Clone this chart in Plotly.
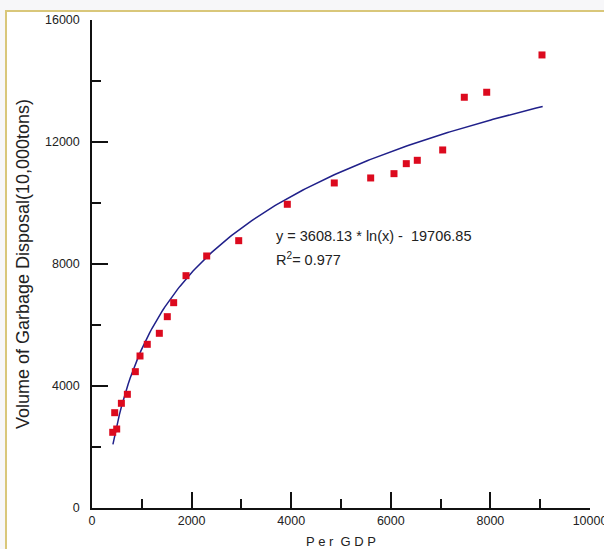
import numpy as np
import plotly.graph_objects as go

# Data
gdp = [416, 456, 496, 590, 710, 870, 964, 1110, 1352, 1512, 1640, 1888, 2303, 2946,
       3922, 4865, 5596, 6064, 6311, 6532, 7042, 7476, 7926, 9036]
garbage = [2482, 3125, 2590, 3433, 3728, 4470, 4984, 5367, 5728, 6273, 6732, 7617, 8263, 8765,
           9958, 10657, 10821, 10962, 11290, 11400, 11739, 13467, 13631, 14854]

# Fitted trend shown on the chart: y = a*ln(x) + b
fit_a = 3608.13
fit_b = -19706.85
fit_x = np.linspace(420, 9050, 200)
fit_y = fit_a * np.log(fit_x) + fit_b

x_ticks = [0, 2000, 4000, 6000, 8000, 10000]
y_ticks = [0, 4000, 8000, 12000, 16000]

FONT = "Liberation Sans, Arial, sans-serif"

fig = go.Figure()
fig.add_trace(go.Scatter(x=fit_x, y=fit_y, mode="lines",
                         line=dict(color="#20208a", width=1.5), hoverinfo="skip"))
fig.add_trace(go.Scatter(x=gdp, y=garbage, mode="markers",
                         marker=dict(symbol="square", size=7, color="#dc0a1e",
                                     line=dict(width=0))))

# frame around the chart
fig.add_shape(type="rect", xref="paper", yref="paper",
              x0=-0.1727, y0=-0.1, x1=1.05, y1=1.0184,
              line=dict(color="#d9c77a", width=2), fillcolor="white", layer="below")

fig.add_annotation(x=3650, y=8930, xref="x", yref="y", xanchor="left", yanchor="middle",
                   text="y = 3608.13 * ln(x) -  19706.85", showarrow=False,
                   font=dict(family=FONT, size=14.5, color="#222"))
fig.add_annotation(x=3650, y=8170, xref="x", yref="y", xanchor="left", yanchor="middle",
                   text="R<sup>2</sup>= 0.977", showarrow=False,
                   font=dict(family=FONT, size=14.5, color="#222"))

fig.update_layout(
    width=604, height=549,
    margin=dict(l=92, r=14, t=20, b=41),
    paper_bgcolor="#f7f7f9", plot_bgcolor="rgba(0,0,0,0)",
    showlegend=False,
    font=dict(family=FONT, color="#222", size=12.5),
    xaxis=dict(range=[0, 10000], tickvals=x_ticks, ticktext=[str(v) for v in x_ticks],
               showgrid=False, zeroline=False, showline=True, linecolor="#111", linewidth=1.5,
               ticks="inside", ticklen=16, tickwidth=1.5, tickcolor="#111",
               ticklabeloverflow="allow", automargin=False,
               minor=dict(tickvals=[1000, 3000, 5000, 7000, 9000], ticks="inside",
                          ticklen=9, tickwidth=1.5, tickcolor="#111"),
               title=dict(text="P e r  G D P", standoff=10,
                          font=dict(family=FONT, size=13, color="#222"))),
    yaxis=dict(range=[0, 16000], tickvals=y_ticks, ticktext=[str(v) for v in y_ticks],
               showgrid=False, zeroline=False, showline=True, linecolor="#111", linewidth=1.5,
               ticks="inside", ticklen=16, tickwidth=1.5, tickcolor="#111",
               automargin=False,
               minor=dict(tickvals=[2000, 6000, 10000, 14000], ticks="inside",
                          ticklen=9, tickwidth=1.5, tickcolor="#111"),
               ticklabelstandoff=8,
               title=dict(text="Volume of Garbage Disposal(10,000tons)", standoff=11,
                          font=dict(family=FONT, size=18, color="#222"))),
)

fig.write_html("out.html")
